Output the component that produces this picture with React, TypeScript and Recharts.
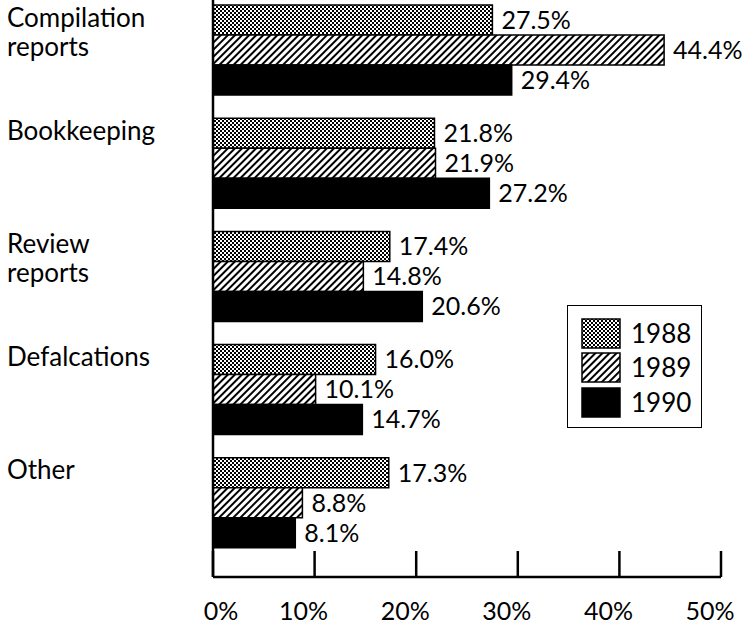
import React from 'react';
import { BarChart, Bar, XAxis, YAxis, LabelList, Legend } from 'recharts';

const categories = ['Compilation reports', 'Bookkeeping', 'Review reports', 'Defalcations', 'Other'];
const years = ['1988', '1989', '1990'];
const values1988 = [27.5, 21.8, 17.4, 16.0, 17.3];
const values1989 = [44.4, 21.9, 14.8, 10.1, 8.8];
const values1990 = [29.4, 27.2, 20.6, 14.7, 8.1];
const xTicks = [0, 10, 20, 30, 40, 50];

const data = categories.map((name, i) => ({
  name,
  y1988: values1988[i],
  y1989: values1989[i],
  y1990: values1990[i],
}));

const FONT = 'Lato, "Noto Sans", sans-serif';
const fills = ['url(#dots)', 'url(#hatch)', '#000'];
const legendFills = ['url(#dotsL)', 'url(#hatchL)', '#000'];

const Patterns = ({ suffix = '' }: { suffix?: string }) => (
  <defs>
    <pattern id={`dots${suffix}`} width="4" height="4" patternUnits="userSpaceOnUse">
      <rect width="4" height="4" fill="#000" />
      <rect x="0" y="0" width="2" height="2" fill="#fff" />
      <rect x="2" y="2" width="2" height="2" fill="#fff" />
    </pattern>
    <pattern id={`hatch${suffix}`} width="5" height="5" patternUnits="userSpaceOnUse" patternTransform="rotate(45)">
      <rect width="5" height="5" fill="#fff" />
      <rect x="0" y="0" width="2" height="5" fill="#000" />
    </pattern>
  </defs>
);

// category name, one word per line, first line level with the top bar
const CategoryTick = (props: any) => {
  const { y, payload } = props;
  const lines = String(payload.value).split(' ');
  return (
    <g>
      {lines.map((l, i) => (
        <text key={i} x={7} y={y - 24 + i * 29} fontSize={26} fontFamily={FONT} fill="#000" textAnchor="start">
          {l}
        </text>
      ))}
    </g>
  );
};

const PercentTick = (props: any) => {
  const { x, y, payload } = props;
  const shift = payload.value === 0 ? 8 : -11;
  return (
    <g>
      <line x1={x} y1={y} x2={x} y2={y - 26} stroke="#000" strokeWidth={2.5} />
      <text x={x + shift} y={y + 43} fontSize={25} fontFamily={FONT} fill="#000" textAnchor="middle">
        {`${payload.value}%`}
      </text>
    </g>
  );
};

const LegendBox = () => (
  <div
    style={{
      width: 135,
      height: 123,
      border: '1.5px solid #000',
      background: '#fff',
      boxSizing: 'border-box',
      paddingTop: 10,
      paddingLeft: 13,
    }}
  >
    {years.map((yr, i) => (
      <div key={yr} style={{ display: 'flex', alignItems: 'center', height: 34.5 }}>
        <svg width={40} height={31} style={{ display: 'block' }}>
          {i === 0 && <Patterns suffix="L" />}
          <rect x={1} y={1} width={38} height={29} fill={legendFills[i]} stroke="#000" strokeWidth={1.5} />
        </svg>
        <span style={{ marginLeft: 10, fontSize: 26, fontFamily: FONT, color: '#000', lineHeight: '31px' }}>{yr}</span>
      </div>
    ))}
  </div>
);

export default function App() {
  return (
    <div style={{ position: 'absolute', left: 0, top: 0, width: 755, height: 628, background: '#fff' }}>
      <BarChart
        width={755}
        height={628}
        data={data}
        layout="vertical"
        margin={{ top: -6, right: 34, left: 0, bottom: 0 }}
        barCategoryGap={11}
        barGap={0}
      >
        <Patterns />
        <XAxis
          type="number"
          domain={[0, 50]}
          ticks={xTicks}
          height={51}
          axisLine={{ stroke: '#000', strokeWidth: 2.5 }}
          tickLine={false}
          tickSize={0}
          tickMargin={0}
          tick={<PercentTick />}
          interval={0}
        />
        <YAxis
          type="category"
          dataKey="name"
          width={213}
          padding={{ top: 0, bottom: 17 }}
          axisLine={{ stroke: '#000', strokeWidth: 2.5 }}
          tickLine={false}
          tick={<CategoryTick />}
          interval={0}
        />
        <Legend
          layout="vertical"
          align="center"
          verticalAlign="middle"
          content={<LegendBox />}
          wrapperStyle={{ position: 'absolute', left: 567, top: 305, width: 'auto', height: 'auto' }}
        />
        {['y1988', 'y1989', 'y1990'].map((key, i) => (
          <Bar
            key={key}
            dataKey={key}
            name={years[i]}
            fill={fills[i]}
            stroke="#000"
            strokeWidth={1.5}
            isAnimationActive={false}
          >
            <LabelList
              dataKey={key}
              position="right"
              offset={9}
              fontSize={25}
              fontFamily={FONT}
              fill="#000"
              formatter={(v: any) => `${Number(v).toFixed(1)}%`}
            />
          </Bar>
        ))}
      </BarChart>
    </div>
  );
}
